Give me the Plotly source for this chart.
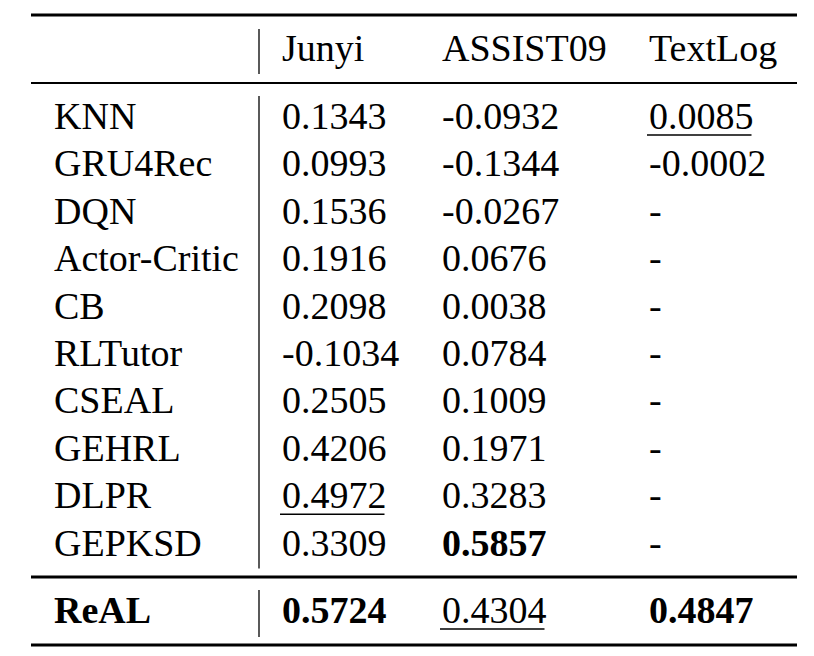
import plotly.graph_objects as go

# table contents
columns = ["Junyi", "ASSIST09", "TextLog"]
methods = ["KNN", "GRU4Rec", "DQN", "Actor-Critic", "CB", "RLTutor",
           "CSEAL", "GEHRL", "DLPR", "GEPKSD"]
junyi = [0.1343, 0.0993, 0.1536, 0.1916, 0.2098, -0.1034, 0.2505, 0.4206, 0.4972, 0.3309]
assist09 = [-0.0932, -0.1344, -0.0267, 0.0676, 0.0038, 0.0784, 0.1009, 0.1971, 0.3283, 0.5857]
textlog = [0.0085, -0.0002, None, None, None, None, None, None, None, None]
ours_name = "ReAL"
ours = [0.5724, 0.4304, 0.4847]

# layout (pixels, page coordinates; the page body adds an 8px offset)
W, H = 814, 656
OFF = 8
FONT = "Liberation Serif"
FS = 38
col_x = [52, 280, 440, 647]
header_y = 48
row_y0, row_step = 116, 47.4
ours_y = 610
left, right, vline_x = 31, 797, 259

char_w = {".": 0.25, "-": 0.333}


def text_width(s):
    return sum(char_w.get(c, 0.5) for c in s) * FS


def fmt(v):
    return "-" if v is None else f"{v:.4f}"


series = [junyi, assist09, textlog]
fig = go.Figure()

# best (bold) and second best (underline) per column, ReAL included
marks = {}
for j, col in enumerate(series):
    vals = [(v, ("b", i)) for i, v in enumerate(col) if v is not None]
    vals.append((ours[j], ("r", 0)))
    vals.sort(key=lambda t: t[0], reverse=True)
    marks[(vals[0][1], j)] = "bold"
    if len(vals) > 1:
        marks[(vals[1][1], j)] = "under"


def cell(x, y, s, style=None):
    txt = f"<b>{s}</b>" if style == "bold" else s
    fig.add_annotation(x=x, y=y, text=txt, showarrow=False, xanchor="left",
                       yanchor="middle", xref="x", yref="y",
                       font=dict(family=FONT, size=FS, color="black"))
    if style == "under":
        uy = y + 19
        fig.add_shape(type="line", x0=x, x1=x + text_width(s), y0=uy, y1=uy,
                      xref="x", yref="y", line=dict(color="black", width=1.6))


# header
for j, c in enumerate(columns):
    cell(col_x[j + 1], header_y, c)

# body
for i, m in enumerate(methods):
    y = row_y0 + i * row_step
    cell(col_x[0], y, m)
    for j, col in enumerate(series):
        cell(col_x[j + 1], y, fmt(col[i]), marks.get((("b", i), j)))

# ours
cell(col_x[0], ours_y, ours_name, "bold")
for j, v in enumerate(ours):
    cell(col_x[j + 1], ours_y, fmt(v), marks.get((("r", 0), j)))

# rules
for y, w in [(15, 3.2), (83, 2), (577, 3), (645, 3.2)]:
    fig.add_shape(type="line", x0=left, x1=right, y0=y, y1=y, xref="x", yref="y",
                  line=dict(color="black", width=w))
last_y = row_y0 + (len(methods) - 1) * row_step
for y0, y1 in [(29, 74), (96, last_y + 26), (590, 637)]:
    fig.add_shape(type="line", x0=vline_x, x1=vline_x, y0=y0, y1=y1, xref="x", yref="y",
                  line=dict(color="black", width=1.3))

fig.update_layout(width=W, height=H, margin=dict(l=0, r=0, t=0, b=0),
                  paper_bgcolor="white", plot_bgcolor="white", showlegend=False)
fig.update_xaxes(range=[OFF, W + OFF], visible=False, fixedrange=True)
fig.update_yaxes(range=[H + OFF, OFF], visible=False, fixedrange=True)

fig.write_html("out.html")
